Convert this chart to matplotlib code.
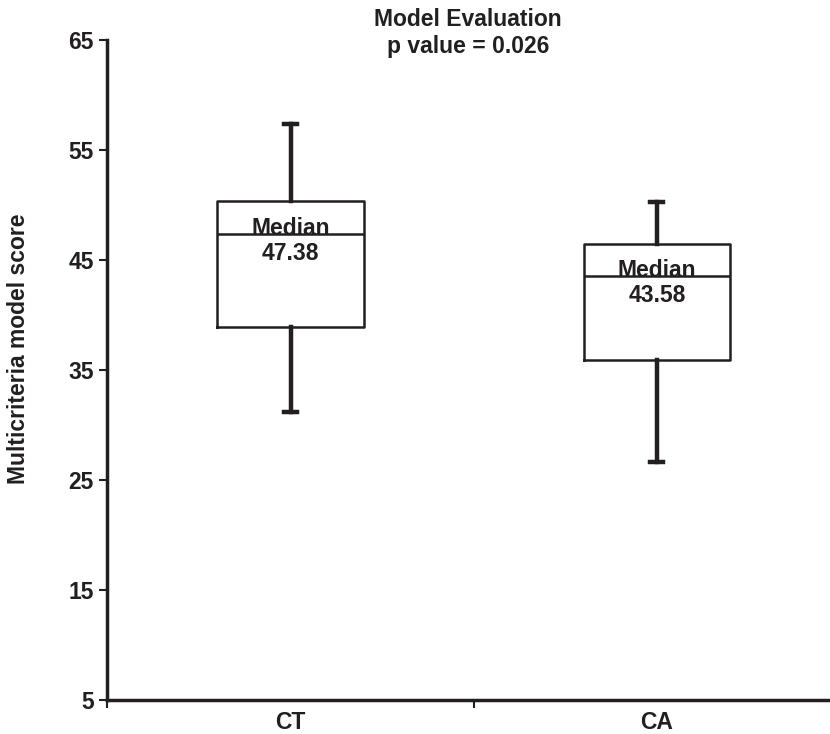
import matplotlib.pyplot as plt

plt.rcParams['font.family'] = ['Liberation Sans', 'DejaVu Sans']
plt.rcParams['font.weight'] = 'bold'
plt.rcParams['axes.labelweight'] = 'bold'

groups = ['CT', 'CA']
whisker_low = [31.2, 26.6]
q1 = [38.9, 35.9]
medians = [47.38, 43.58]
q3 = [50.4, 46.45]
whisker_high = [57.4, 50.3]
title_lines = ['Model Evaluation', 'p value = 0.026']
ylabel = 'Multicriteria model score'
yticks = [5, 15, 25, 35, 45, 55, 65]

dark = '#231f20'
fs = 16.5

stats = []
for i in range(len(groups)):
    stats.append({'whislo': whisker_low[i], 'q1': q1[i], 'med': medians[i],
                  'q3': q3[i], 'whishi': whisker_high[i], 'fliers': []})

fig = plt.figure(figsize=(8.3, 7.34), dpi=100)
ax = fig.add_axes([0.1295, 0.0463, 0.8825, 0.8992])

pos = [1, 2]
ax.bxp(stats, positions=pos, widths=0.4, capwidths=0.036, showfliers=False,
       boxprops=dict(color=dark, linewidth=1.8),
       medianprops=dict(color=dark, linewidth=1.8),
       whiskerprops=dict(color=dark, linewidth=3.2),
       capprops=dict(color=dark, linewidth=3.2))

for p, m in zip(pos, medians):
    ax.annotate('Median', (p, m), xytext=(0, -1), textcoords='offset points',
                ha='center', va='baseline', fontsize=fs, color=dark)
    ax.annotate('%.2f' % m, (p, m), xytext=(0, -6), textcoords='offset points',
                ha='center', va='top', fontsize=fs, color=dark)

ax.set_xlim(0.5, 2.5)
ax.set_ylim(5, 65)
ax.set_yticks(yticks)
ax.set_xticks([0.5, 1.5, 2.5])
ax.set_xticklabels([])
ax.set_xticks(pos, minor=True)
ax.set_xticklabels(groups, minor=True)
ax.tick_params(axis='x', which='minor', length=0, pad=8, labelsize=fs,
               colors=dark)
ax.tick_params(axis='x', which='major', length=6, width=1.5, direction='out',
               color=dark)
ax.tick_params(axis='y', length=6, width=1.5, labelsize=fs, pad=4, colors=dark)

for s in ['top', 'right']:
    ax.spines[s].set_visible(False)
for s in ['left', 'bottom']:
    ax.spines[s].set_linewidth(2.5)
    ax.spines[s].set_color(dark)

ax.set_ylabel(ylabel, fontsize=fs, color=dark)
ax.yaxis.set_label_coords(-0.106, 0.532)
fig.text(0.5640, 1 - 19 / 734, title_lines[0], ha='center', va='center',
         fontsize=fs, color=dark)
fig.text(0.5640, 1 - 47 / 734, title_lines[1], ha='center', va='center',
         fontsize=fs, color=dark)

fig.savefig('out.png', dpi=100)
